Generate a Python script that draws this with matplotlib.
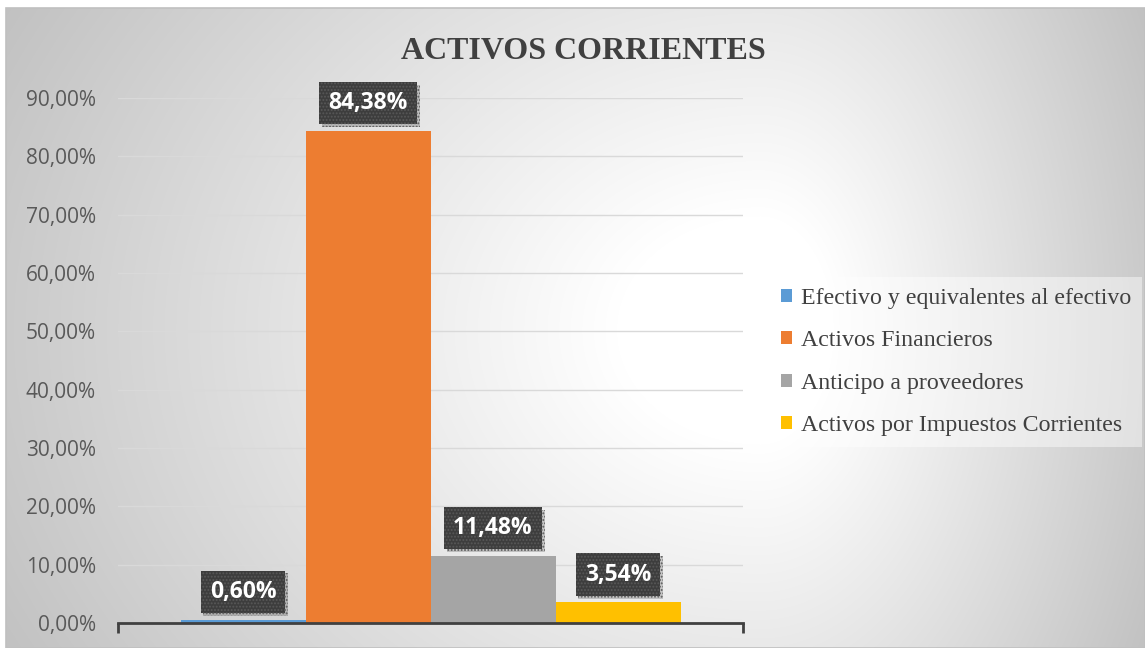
import numpy as np
import matplotlib
matplotlib.use("Agg")
import matplotlib.pyplot as plt
import matplotlib.patheffects as pe
from matplotlib.patches import Rectangle
from matplotlib.ticker import FuncFormatter, MultipleLocator

# ---- data ----
title = "ACTIVOS CORRIENTES"
series_names = ["Efectivo y equivalentes al efectivo", "Activos Financieros",
                "Anticipo a proveedores", "Activos por Impuestos Corrientes"]
values = [0.60, 84.38, 11.48, 3.54]
colors = ["#5b9bd5", "#ed7d31", "#a5a5a5", "#ffc000"]
y_max = 90
y_step = 10

plt.rcParams["hatch.linewidth"] = 0.9

W, H = 1145, 648
fig = plt.figure(figsize=(W / 100, H / 100), dpi=100)
fig.patch.set_facecolor("white")

# ---- background (radial gradient) ----
bx0, by0 = 6, 8  # chart box left / top in pixels
bg = fig.add_axes([bx0 / W, 0, 1 - bx0 / W, (H - by0) / H], zorder=0)
xs = np.arange(bx0, W)
ys = np.arange(by0, H)
X, Y = np.meshgrid(xs, ys)
cx, cy = 760, 330
nx = np.where(X < cx, (cx - X) / (cx - bx0), (X - cx) / (W - cx))
ny = np.abs(Y - cy) / 600.0
r = np.sqrt(nx ** 2 + ny ** 2)
g = np.clip(255 - 65 * (r - 0.19), 190, 255) / 255.0
bg.imshow(np.dstack([g, g, g]), aspect="auto", interpolation="bilinear")
bg.set_axis_off()
fig.patches.append(Rectangle((bx0 / W, 0), 1 - bx0 / W, (H - by0) / H,
                             transform=fig.transFigure, fill=False,
                             edgecolor="#c0c0c0", linewidth=1.2, zorder=1))

# ---- main axes ----
L, R, T, B = 118, 743, 98, 623
ax = fig.add_axes([L / W, (H - B) / H, (R - L) / W, (B - T) / H], zorder=2)
ax.patch.set_alpha(0)

x = np.arange(len(values))
for i, (v, c, n) in enumerate(zip(values, colors, series_names)):
    ax.bar(x[i], v, width=1.0, color=c, label=n, zorder=3)

ax.set_xlim(-1, len(values))
ax.set_ylim(0, y_max)
ax.yaxis.set_major_locator(MultipleLocator(y_step))
ax.yaxis.set_major_formatter(FuncFormatter(lambda v, p: f"{v:.2f}%".replace(".", ",")))
ax.grid(axis="y", color="#d9d9d9", linewidth=1.0, zorder=1)
ax.set_axisbelow(True)
for s in ["top", "right", "left"]:
    ax.spines[s].set_visible(False)
ax.spines["bottom"].set_color("#404040")
ax.spines["bottom"].set_linewidth(2.0)
ax.spines["bottom"].set_zorder(4)
ax.set_xticks([-1, len(values)])
ax.set_xticklabels([])
ax.tick_params(axis="x", length=7, width=2, color="#404040", direction="out")
ax.tick_params(axis="y", length=0, pad=16, labelcolor="#595959", labelsize=15)
for lab in ax.get_yticklabels():
    lab.set_fontfamily("Open Sans")

# ---- data labels ----
for i, v in enumerate(values):
    txt = f"{v:.2f}%".replace(".", ",")
    ann = ax.annotate(txt, xy=(x[i], v), xytext=(0, 20),
                      textcoords="offset points", ha="center", va="center",
                      fontsize=16.5, fontweight="bold", family="Open Sans",
                      color="white", zorder=6,
                      bbox=dict(boxstyle="square,pad=0.4", facecolor="#3d3d3d",
                                edgecolor="#595959", linewidth=0, hatch="....."))
    ann.get_bbox_patch().set_path_effects([
        pe.SimplePatchShadow(offset=(2, -2), shadow_rgbFace="black", alpha=0.18),
        pe.Normal()])

# ---- title ----
fig.text(583 / W, 1 - 59 / H, title, ha="center", va="baseline",
         fontsize=23, fontweight="bold", family="Liberation Serif", color="#404040")

# ---- legend ----
leg = ax.legend(loc="center left", bbox_to_anchor=(770 / W, (H - 362) / H),
                bbox_transform=fig.transFigure, borderaxespad=0,
                prop={"family": "Liberation Serif", "size": 17.2},
                handlelength=0.45, handleheight=0.45, handletextpad=0.4,
                labelspacing=0.9, borderpad=0.45, frameon=True, fancybox=False)
leg.get_frame().set_facecolor("white")
leg.get_frame().set_alpha(0.45)
leg.get_frame().set_linewidth(0)
for t in leg.get_texts():
    t.set_color("#404040")

fig.savefig("out.png", dpi=100)
